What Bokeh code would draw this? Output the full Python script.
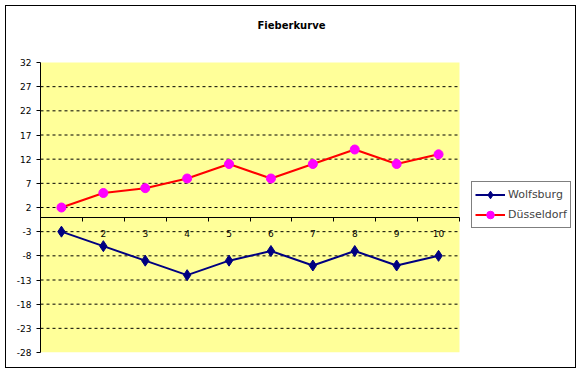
from bokeh.plotting import figure
from bokeh.models import (FixedTicker, Legend, LegendItem, Range1d, Label,
                          BoxAnnotation, PrintfTickFormatter)
from bokeh.embed import file_html
from bokeh.resources import INLINE

title_text = "Fieberkurve"
days = [1, 2, 3, 4, 5, 6, 7, 8, 9, 10]
wolfsburg = [-3, -6, -9, -12, -9, -7, -10, -7, -10, -8]
duesseldorf = [2, 5, 6, 8, 11, 8, 11, 14, 11, 13]
y_ticks = [-28, -23, -18, -13, -8, -3, 2, 7, 12, 17, 22, 27, 32]

# layout (pixels, canvas coordinates)
W, H = 571, 363
BL, BR, BT, BB = 34, 3, 0, 17
plot_w, plot_h = 419, 290          # size of the yellow plot area
plot_top = 56                       # top of yellow plot area below canvas top
title_cx, title_cy = 251, 19        # title centre relative to frame-left / canvas top

px_per_x = plot_w / len(days)
px_per_y = plot_h / (y_ticks[-1] - y_ticks[0])
frame_w = W - BL - BR
x_start = days[0] - 0.5
x_end_plot = days[-1] + 0.5
x_end = x_start + frame_w / px_per_x
y_end = y_ticks[-1] + plot_top / px_per_y

p = figure(width=W, height=H, output_backend="svg", toolbar_location=None,
           x_range=Range1d(x_start, x_end), y_range=Range1d(y_ticks[0], y_end),
           min_border_left=BL, min_border_right=BR, min_border_top=BT, min_border_bottom=BB)
p.styles = {"border": "1px solid black", "margin-left": "5px", "margin-top": "5px"}
p.background_fill_color = "white"
p.border_fill_color = "white"
p.outline_line_color = None
p.grid.visible = False

# yellow plot area
p.add_layout(BoxAnnotation(left=x_start, right=x_end_plot, bottom=y_ticks[0], top=y_ticks[-1],
                           fill_color="#FFFF99", fill_alpha=1.0, line_color=None, level="underlay"))

# title
p.add_layout(Label(x=x_start + title_cx / px_per_x, y=y_end - title_cy / px_per_y,
                   text=title_text, text_align="center", text_baseline="middle",
                   text_font="DejaVu Sans", text_font_size="10px", text_font_style="bold",
                   text_color="black"))

# axes
p.xaxis.ticker = FixedTicker(ticks=days[1:], minor_ticks=[d + 0.5 for d in [0] + days])
p.xaxis.fixed_location = 0
p.xaxis.bounds = (x_start, x_end_plot)
p.xaxis.axis_line_color = "black"
p.xaxis.major_tick_in = 0
p.xaxis.major_tick_out = 0
p.xaxis.minor_tick_in = 0
p.xaxis.minor_tick_out = 4
p.xaxis.minor_tick_line_color = "black"
p.xaxis.major_label_standoff = 9
p.xaxis.major_label_text_font = "DejaVu Sans"
p.xaxis.major_label_text_font_size = "9px"
p.xaxis.major_label_text_color = "black"

p.yaxis.ticker = FixedTicker(ticks=y_ticks)
p.yaxis.bounds = (y_ticks[0], y_ticks[-1])
p.yaxis.formatter = PrintfTickFormatter(format="%d")
p.yaxis.axis_line_color = "black"
p.yaxis.major_tick_in = 0
p.yaxis.major_tick_out = 4
p.yaxis.minor_tick_line_color = None
p.yaxis.major_label_standoff = 5
p.yaxis.major_label_text_font = "DejaVu Sans"
p.yaxis.major_label_text_font_size = "9px"
p.yaxis.major_label_text_color = "black"

# dashed horizontal grid lines at the inner y ticks
grid_y = y_ticks[1:-1]
p.segment(x0=[x_start] * len(grid_y), x1=[x_end_plot] * len(grid_y), y0=grid_y, y1=grid_y,
          line_color="black", line_width=1, line_dash="3 3")

# series
l1 = p.line(days, wolfsburg, line_color="#000080", line_width=2)
m1 = p.scatter(days, wolfsburg, marker="diamond", size=11, fill_color="#000080", line_color="#000080")
l2 = p.line(days, duesseldorf, line_color="#FF0000", line_width=2)
m2 = p.scatter(days, duesseldorf, marker="circle", size=9, fill_color="#FF00FF", line_color="#FF00FF")

legend = Legend(items=[LegendItem(label="Wolfsburg", renderers=[l1, m1]),
                       LegendItem(label="Düsseldorf", renderers=[l2, m2])],
                location=(431, 124), margin=0, padding=3, spacing=1,
                label_text_font="DejaVu Sans", label_text_font_size="11px",
                label_height=19, glyph_height=19, glyph_width=30, label_standoff=3,
                border_line_color="black", border_line_width=1,
                background_fill_color="white", background_fill_alpha=1.0)
p.add_layout(legend)

open("out.html", "w").write(file_html(p, INLINE))
